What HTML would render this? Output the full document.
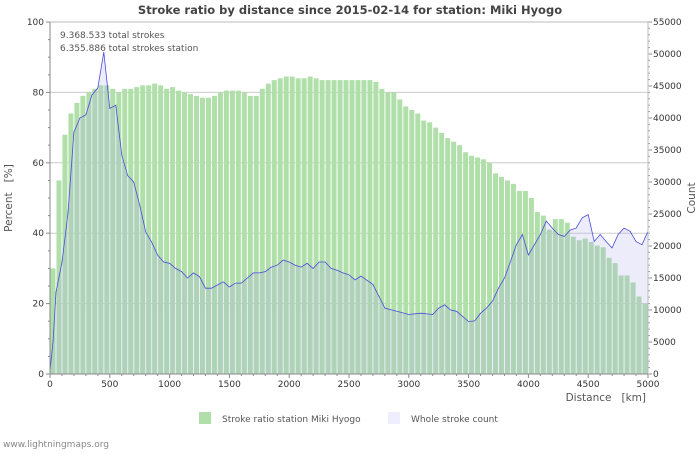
<!DOCTYPE html>
<html><head><meta charset="utf-8"><style>
body{margin:0;background:#fff;font-family:"DejaVu Sans","Liberation Sans",sans-serif;}
svg text{font-family:"DejaVu Sans","Liberation Sans",sans-serif;white-space:pre;}
</style></head><body>
<svg id="c" width="700" height="450">
<text x="350" y="14" text-anchor="middle" font-size="11.5" font-weight="bold" fill="#444">Stroke ratio by distance since 2015-02-14 for station: Miki Hyogo</text>
<g id="grid"></g><g id="bars"></g><g id="area"></g><g id="axes"></g>
<text x="60" y="38" font-size="9" fill="#555">9.368.533 total strokes</text>
<text x="60" y="51" font-size="9" fill="#555">6.355.886 total strokes station</text>
<text transform="translate(12,198) rotate(-90)" text-anchor="middle" font-size="10.5" fill="#555">Percent&#160;&#160;&#160;[%]</text>
<text transform="translate(695,198) rotate(-90)" text-anchor="middle" font-size="10.5" fill="#555">Count</text>
<text x="646" y="401" text-anchor="end" font-size="10.5" fill="#555">Distance&#160;&#160;&#160;[km]</text>
<g>
<rect x="199" y="412" width="12" height="12" fill="#b0dfaa"/>
<text x="222" y="422" font-size="9" fill="#555">Stroke ratio station Miki Hyogo</text>
<rect x="388" y="412" width="12" height="12" fill="#eeeeff"/>
<text x="411" y="422" font-size="9" fill="#555">Whole stroke count</text>
</g>
<text x="3" y="447" font-size="9" fill="#888">www.lightningmaps.org</text>
</svg>
<script>
const distances=[0,50,100,150,200,250,300,350,400,450,500,550,600,650,700,750,800,850,900,950,1000,1050,1100,1150,1200,1250,1300,1350,1400,1450,1500,1550,1600,1650,1700,1750,1800,1850,1900,1950,2000,2050,2100,2150,2200,2250,2300,2350,2400,2450,2500,2550,2600,2650,2700,2750,2800,2850,2900,2950,3000,3050,3100,3150,3200,3250,3300,3350,3400,3450,3500,3550,3600,3650,3700,3750,3800,3850,3900,3950,4000,4050,4100,4150,4200,4250,4300,4350,4400,4450,4500,4550,4600,4650,4700,4750,4800,4850,4900,4950];
const ratioPct=[30,55,68,74,77,79,80,81,82,82,81,80,81,81,81.5,82,82,82.5,82,81,81.5,80.5,80,79.5,79,78.5,78.5,79,80,80.5,80.5,80.5,80,79,79,81,82.5,83.5,84,84.5,84.5,84,84,84.5,84,83.5,83.5,83.5,83.5,83.5,83.5,83.5,83.5,83.5,83,81,80,80,78,76,75,74,72,71.5,70,68.5,67,66,65,63,62,61.5,61,60,57,56,55,54,52,52,50,46,45,41,44,44,43,39,38,38.5,37.5,36.5,36,33,31.5,28,28,26,22,20];
const countDist=[0,25,50,100,150,200,250,300,350,400,450,500,550,600,650,700,750,800,850,900,950,1000,1050,1100,1150,1200,1250,1300,1350,1400,1450,1500,1550,1600,1650,1700,1750,1800,1850,1900,1950,2000,2050,2100,2150,2200,2250,2300,2350,2400,2450,2500,2550,2600,2700,2800,2900,3000,3100,3200,3250,3300,3350,3400,3450,3500,3550,3600,3650,3700,3750,3800,3850,3900,3950,4000,4050,4100,4150,4200,4250,4300,4350,4400,4450,4500,4550,4600,4650,4700,4750,4800,4850,4900,4950,5000];
const counts=[500,5000,12800,17500,25000,37800,40000,40500,43600,44700,50300,41500,42000,34200,31000,30000,26400,22200,20600,18600,17500,17300,16500,16000,15000,15800,15200,13400,13400,13900,14400,13600,14200,14200,15000,15800,15800,16000,16700,17000,17800,17500,17000,16700,17300,16500,17500,17500,16500,16200,15800,15500,14700,15300,14000,10300,9800,9300,9500,9300,10300,10800,10000,9800,9000,8200,8300,9500,10300,11400,13400,15000,17600,20200,21800,18600,20200,21800,23900,22800,21800,21500,22500,22800,24400,24900,20700,21800,20700,19700,21800,22800,22300,20700,20200,22300];
const pctTicks=[0,20,40,60,80,100];
const cntTicks=[0,5000,10000,15000,20000,25000,30000,35000,40000,45000,50000,55000];
const kmTicks=[0,500,1000,1500,2000,2500,3000,3500,4000,4500,5000];
const X0=50,X1=648,Y0=374,Y1=22,NS="http://www.w3.org/2000/svg";
const xs=k=>X0+k/5000*(X1-X0), yp=p=>Y0-p/100*(Y0-Y1), yc=c=>Y0-c/55000*(Y0-Y1);
function mk(t,a,p){const e=document.createElementNS(NS,t);for(const k in a)e.setAttribute(k,a[k]);p.appendChild(e);return e;}
const grid=document.getElementById('grid'),bars=document.getElementById('bars'),area=document.getElementById('area'),axes=document.getElementById('axes');
pctTicks.forEach(p=>{if(p>0&&p<100){const l=mk('line',{x1:X0,x2:X1,y1:yp(p),y2:yp(p),stroke:'#ccc'},grid);

}
const t=mk('text',{x:44,y:yp(p)+3,'text-anchor':'end','font-size':9,fill:'#333'},axes);t.textContent=p;

});
cntTicks.forEach(c=>{const t=mk('text',{x:653,y:yc(c)+3,'font-size':9,fill:'#333'},axes);t.textContent=c;


mk('line',{x1:X1,x2:X1+4,y1:yc(c),y2:yc(c),stroke:'#888'},axes);});
for(let c=0;c<=55000;c+=1000)mk('line',{x1:X1,x2:X1+2,y1:yc(c),y2:yc(c),stroke:'#999'},axes);
kmTicks.forEach(k=>{const t=mk('text',{x:xs(k),y:387,'text-anchor':'middle','font-size':9,fill:'#333'},axes);t.textContent=k;

});
for(let k=0;k<=5000;k+=100)mk('line',{x1:xs(k),x2:xs(k),y1:Y0,y2:Y0+(k%500?2:4),stroke:'#888'},axes);
for(let p=0;p<=100;p+=5)mk('line',{x1:X0-(p%20?2:4),x2:X0,y1:yp(p),y2:yp(p),stroke:'#888'},axes);
ratioPct.forEach((p,i)=>{const a=xs(distances[i]),b=xs(distances[i]+50);
const r=mk('rect',{x:a+0.5,y:yp(p),width:b-a-1,height:Y0-yp(p),fill:'#b0dfaa'},bars);

});
let d='M'+xs(countDist[0])+','+Y0;counts.forEach((c,i)=>{d+=' L'+xs(countDist[i]).toFixed(1)+','+yc(c).toFixed(1);});
const fa=mk('path',{d:d+' L'+xs(countDist[countDist.length-1])+','+Y0+' Z',fill:'rgba(170,170,230,0.22)'},area);


const ln=mk('path',{d:d.replace(/^M[^L]*L/,'M'),fill:'none',stroke:'#4b4bdd','stroke-width':0.8},area);


mk('rect',{x:X0,y:Y1,width:X1-X0,height:Y0-Y1,fill:'none',stroke:'#bbb'},axes);
mk('line',{x1:X0,x2:X0,y1:Y1,y2:Y0,stroke:'#888'},axes);
mk('line',{x1:X0,x2:X1,y1:Y0,y2:Y0,stroke:'#888'},axes);
</script>
</body></html>
